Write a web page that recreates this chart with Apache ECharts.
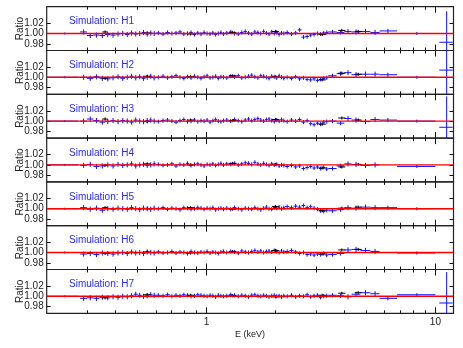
<!DOCTYPE html>
<html>
<head>
<meta charset="utf-8">
<script src="https://cdn.jsdelivr.net/npm/echarts@6.0.0/dist/echarts.min.js"></script>
<style>
html,body{margin:0;padding:0;background:#fff;}
#chart{width:463px;height:348px;}
</style>
</head>
<body>
<div id="chart"></div>
<script>
// ---------------- DATA ----------------
const panelNames = ['Simulation: H1','Simulation: H2','Simulation: H3','Simulation: H4','Simulation: H5','Simulation: H6','Simulation: H7'];

const xMinorTicks = [0.3,0.4,0.5,0.6,0.7,0.8,0.9,2,3,4,5,6,7,8,9];
const xMajorTicks = [1,10];
const xTickLabels = [1,10];
const yTickLabels = [0.98,1.00,1.02];

// shared energy bins (keV)
const binLo = [0.200,
  0.28,0.30,0.32,0.34,0.36,0.38,0.40,0.42,0.44,0.46,0.48,0.50,0.52,0.54,0.56,0.58,
  0.60,0.63,0.66,0.69,0.72,0.75,0.78,0.81,0.84,0.87,0.90,0.93,0.96,0.99,1.02,1.05,1.08,1.11,1.14,1.17,
  1.20,1.25,1.30,1.35,1.40,1.45,1.50,1.55,1.60,1.65,1.70,1.75,1.80,1.85,1.90,1.95,2.00,2.05,2.10,2.15,
  2.2,2.3,2.4,2.5,2.6,2.7,2.8,2.9,3.0,3.1,3.2,3.3,
  3.4,3.7,4.0,4.3,4.7,5.2,
  5.7,6.8,10.4];
const binHi = [0.275,
  0.30,0.32,0.34,0.36,0.38,0.40,0.42,0.44,0.46,0.48,0.50,0.52,0.54,0.56,0.58,0.60,
  0.63,0.66,0.69,0.72,0.75,0.78,0.81,0.84,0.87,0.90,0.93,0.96,0.99,1.02,1.05,1.08,1.11,1.14,1.17,1.20,
  1.25,1.30,1.35,1.40,1.45,1.50,1.55,1.60,1.65,1.70,1.75,1.80,1.85,1.90,1.95,2.00,2.05,2.10,2.15,2.20,
  2.3,2.4,2.5,2.6,2.7,2.8,2.9,3.0,3.1,3.2,3.3,3.4,
  3.7,4.0,4.3,4.7,5.2,5.7,
  6.8,10.0,11.9];
const binE = [0.24,
  0.29,0.31,0.33,0.35,0.37,0.39,0.41,0.43,0.45,0.47,0.49,0.51,0.53,0.55,0.57,0.59,
  0.615,0.645,0.675,0.705,0.735,0.765,0.795,0.825,0.855,0.885,0.915,0.945,0.975,1.005,1.035,1.065,1.095,1.125,1.155,1.185,
  1.225,1.275,1.325,1.375,1.425,1.475,1.525,1.575,1.625,1.675,1.725,1.775,1.825,1.875,1.925,1.975,2.025,2.075,2.125,2.175,
  2.25,2.35,2.45,2.55,2.65,2.75,2.85,2.95,3.05,3.15,3.25,3.35,
  3.55,3.85,4.15,4.5,4.95,5.45,
  6.2,8.3,11.2];
const binErr = [0.002,
  0.005,0.005,0.005,0.005,0.005,0.005,0.005,0.005,0.005,0.005,0.005,0.005,0.005,0.005,0.005,0.005,
  0.004,0.004,0.004,0.004,0.004,0.004,0.004,0.004,0.004,0.004,0.004,0.004,0.004,0.004,0.004,0.004,0.004,0.004,0.004,0.004,
  0.004,0.004,0.004,0.004,0.004,0.004,0.004,0.004,0.004,0.004,0.004,0.004,0.004,0.004,0.004,0.004,0.004,0.004,0.004,0.004,
  0.004,0.004,0.004,0.004,0.004,0.004,0.004,0.004,0.004,0.004,0.004,0.004,
  0.004,0.004,0.005,0.005,0.005,0.005,
  0.004,0.003,0.06];

const h1Ratio = [1.000,
  1.003,0.996,0.997,0.996,0.998,0.997,0.999,1.000,0.998,1.001,0.999,1.000,1.002,0.999,1.001,1.000,
  1.001,0.999,1.002,1.000,1.001,1.003,0.999,1.000,1.002,0.998,1.001,0.999,1.002,1.000,0.999,1.001,0.998,1.000,1.002,0.999,
  1.001,1.003,1.000,0.999,1.002,1.004,1.001,0.999,1.003,1.002,1.000,1.004,1.001,0.999,1.003,1.000,1.002,0.998,1.001,1.000,
  1.002,0.999,1.001,1.007,0.993,0.994,0.997,0.998,1.000,0.999,1.001,1.002,
  1.003,1.002,1.004,1.003,1.004,1.002,
  1.005,1.000,0.983];
const h2Ratio = [1.000,
  1.000,0.998,1.001,0.998,0.997,0.999,1.001,0.998,1.000,1.002,0.999,1.001,0.998,1.000,1.002,0.999,
  1.000,1.002,0.999,1.001,1.003,1.000,0.998,1.001,0.999,1.002,1.000,0.998,1.001,1.003,0.999,1.000,1.002,0.998,1.001,1.000,
  0.999,1.002,1.001,1.003,0.999,1.000,1.002,1.004,1.001,0.999,1.003,1.002,1.000,0.998,1.002,1.001,0.999,1.003,1.000,0.998,
  1.000,0.998,1.001,0.997,0.999,0.996,0.995,0.997,0.994,0.996,0.998,0.999,
  1.003,1.007,1.009,1.005,1.006,1.006,
  1.005,1.000,1.014];
const h3Ratio = [1.000,
  1.000,1.004,1.001,0.998,0.999,1.001,0.999,1.001,1.000,0.998,1.002,1.000,0.999,1.001,1.002,1.000,
  0.999,1.001,1.002,1.000,0.998,1.001,1.003,0.999,1.000,1.002,0.999,1.001,1.000,1.002,0.998,1.001,1.003,1.000,0.999,1.001,
  1.002,1.000,1.003,1.001,0.999,1.002,1.004,1.001,1.003,1.005,1.002,1.000,1.003,1.004,1.001,0.999,1.002,1.000,1.003,1.001,
  0.999,1.002,1.000,1.003,0.998,1.001,0.995,0.993,0.996,0.994,0.998,0.999,
  1.000,0.996,1.005,1.002,0.999,1.003,
  1.002,1.000,0.988];
const h4Ratio = [1.000,
  0.999,1.001,0.997,0.998,1.000,0.998,1.001,0.999,1.000,1.002,0.998,1.000,1.001,0.999,1.000,1.002,
  1.001,0.999,1.000,1.002,0.998,1.001,1.000,1.003,0.999,1.001,1.002,1.000,0.998,1.001,1.000,1.002,0.999,1.001,1.003,1.000,
  1.002,1.001,1.003,1.000,1.002,1.004,1.003,1.001,1.005,1.002,1.000,1.003,1.001,0.999,1.002,1.000,1.001,0.998,1.000,0.999,
  0.997,0.999,0.996,0.998,0.993,0.995,0.997,0.994,0.996,0.993,0.995,0.992,
  0.993,0.998,1.002,1.001,0.999,1.000,
  null,0.997,null];
const h5Ratio = [1.000,
  1.002,0.999,1.001,0.997,1.000,0.999,1.001,1.000,0.999,1.002,1.000,0.998,1.001,1.000,0.999,1.001,
  1.000,1.002,0.999,1.001,1.000,0.998,1.002,1.001,0.999,1.000,1.002,1.001,0.999,1.001,1.000,1.002,0.998,1.000,1.001,0.999,
  1.001,0.999,1.002,1.000,0.998,1.001,1.000,0.999,1.002,1.000,0.998,1.001,1.003,1.000,0.999,1.002,1.001,1.003,1.000,1.002,
  1.004,1.002,1.005,1.003,1.006,1.002,1.004,1.001,0.999,0.996,0.995,0.997,
  0.996,0.998,1.002,1.001,1.003,1.002,
  1.002,1.000,null];
const h6Ratio = [1.000,
  0.997,0.998,0.996,0.999,0.998,0.997,0.999,1.000,0.998,1.001,0.999,1.000,0.998,1.001,1.000,0.999,
  1.001,0.999,1.000,1.002,0.999,1.001,1.000,0.998,1.002,1.000,0.999,1.001,1.000,1.002,0.999,1.001,1.000,0.998,1.001,1.002,
  1.000,1.002,1.001,0.999,1.003,1.001,1.000,1.002,1.004,1.001,1.003,1.000,1.002,1.003,1.001,1.004,1.002,1.000,1.003,1.001,
  1.002,1.004,1.001,0.998,1.000,0.996,0.997,0.995,0.997,0.996,0.998,0.995,
  0.996,0.998,1.005,1.006,1.004,1.002,
  null,0.999,null];
const h7Ratio = [1.000,
  0.996,0.997,0.996,0.998,0.997,0.999,0.998,1.000,0.999,1.001,1.004,1.002,1.000,1.001,1.003,1.002,
  1.002,1.001,1.003,1.000,1.002,1.001,1.003,1.002,1.000,1.001,1.003,1.002,1.001,1.000,1.002,1.001,0.999,1.002,1.001,1.000,
  1.001,1.003,1.002,1.000,1.002,1.001,0.999,1.002,1.003,1.001,1.000,1.002,1.001,0.999,1.001,1.002,1.000,1.001,0.999,1.001,
  1.000,1.002,0.999,1.001,1.000,1.003,0.999,1.001,1.002,0.998,1.000,1.001,
  1.002,1.001,0.999,1.004,1.007,1.005,
  0.996,1.003,0.987];
const panelRatios = [h1Ratio,h2Ratio,h3Ratio,h4Ratio,h5Ratio,h6Ratio,h7Ratio];

// second (black) data set
const blackE  = [0.36,0.55,0.85,1.30,2.00,3.20,3.90,4.60];
const blackLo = [0.35,0.53,0.82,1.25,1.93,3.08,3.76,4.44];
const blackHi = [0.37,0.57,0.88,1.35,2.07,3.32,4.04,4.76];
const blackErr = [0.003,0.003,0.003,0.003,0.003,0.003,0.003,0.003];
const blackRatios = [
  [1.003,1.001,0.999,1.002,1.004,0.998,1.006,1.004],
  [0.998,1.002,1.001,1.003,1.001,0.995,1.008,1.006],
  [1.004,0.999,1.002,1.001,1.003,0.994,1.006,1.002],
  [0.999,1.002,1.000,1.003,1.001,0.994,0.996,1.001],
  [1.002,1.000,1.002,0.999,1.004,0.996,1.001,1.003],
  [0.998,1.001,0.999,1.002,1.004,0.997,1.005,1.006],
  [0.997,1.003,1.002,1.001,0.999,1.002,1.006,1.007]
];
const modelLevel = 1.0;
const xRange = [0.2, 12];
const yRange = [0.967, 1.052];

// ---------------- LAYOUT / STYLE ----------------
const GL = 46.7, GW = 406.8, T0 = 6.7, PH = 43.8;
const FONT = 'Liberation Sans';

const grids = [], xAxes = [], yAxes = [], series = [], graphics = [];

function errRender(color) {
  return function (params, api) {
    const x = api.value(0), y = api.value(1);
    const a = api.coord([api.value(2), y]);
    const b = api.coord([api.value(3), y]);
    const c = api.coord([x, api.value(4)]);
    const d = api.coord([x, api.value(5)]);
    return {
      type: 'group',
      children: [
        {type: 'line', shape: {x1: a[0], y1: a[1], x2: b[0], y2: b[1]}, style: {stroke: color, lineWidth: 1}},
        {type: 'line', shape: {x1: c[0], y1: c[1], x2: d[0], y2: d[1]}, style: {stroke: color, lineWidth: 1}}
      ]
    };
  };
}

for (let i = 0; i < 7; i++) {
  const last = i === 6;
  grids.push({left: GL, width: GW, top: T0 + i * PH, height: PH, show: true,
    borderColor: '#222', borderWidth: 1.2, backgroundColor: 'transparent'});
  const baseX = {type: 'log', logBase: 10, min: xRange[0], max: xRange[1], gridIndex: i,
    axisLine: {show: false, onZero: false}, splitLine: {show: false}, minorTick: {show: false}};
  xAxes.push(Object.assign({}, baseX, {position: 'bottom',
    axisTick: {show: true, inside: true, length: 3, customValues: xMinorTicks, lineStyle: {color: '#111', width: 1}},
    axisLabel: {show: false}}));
  xAxes.push(Object.assign({}, baseX, {position: 'bottom',
    axisTick: {show: true, inside: true, length: 6, customValues: xMajorTicks, lineStyle: {color: '#111', width: 1}},
    axisLabel: {show: last, customValues: xTickLabels, formatter: v => String(v), fontSize: 10, fontFamily: FONT, color: '#222', margin: 4},
    name: last ? 'E (keV)' : '', nameLocation: 'middle', nameGap: 17, nameMoveOverlap: false,
    nameTextStyle: {fontSize: 9, fontFamily: FONT, color: '#222'}}));
  xAxes.push(Object.assign({}, baseX, {position: 'top',
    axisTick: {show: true, inside: true, length: 3, customValues: xMinorTicks, lineStyle: {color: '#111', width: 1}},
    axisLabel: {show: false}}));
  xAxes.push(Object.assign({}, baseX, {position: 'top',
    axisTick: {show: true, inside: true, length: 6, customValues: xMajorTicks, lineStyle: {color: '#111', width: 1}},
    axisLabel: {show: false}}));

  const baseY = {type: 'value', min: yRange[0], max: yRange[1], gridIndex: i,
    axisLine: {show: false, onZero: false}, splitLine: {show: false}};
  yAxes.push(Object.assign({}, baseY, {position: 'left',
    axisTick: {show: true, inside: true, length: 4, customValues: yTickLabels, lineStyle: {color: '#111'}},
    axisLabel: {show: true, customValues: yTickLabels, formatter: v => v.toFixed(2), fontSize: 10, fontFamily: FONT, color: '#222', margin: 3},
    name: 'Ratio', nameLocation: 'middle', nameGap: 21, nameMoveOverlap: false,
    nameTextStyle: {fontSize: 10, fontFamily: FONT, color: '#222'}}));
  yAxes.push(Object.assign({}, baseY, {position: 'right',
    axisTick: {show: true, inside: true, length: 4, customValues: yTickLabels, lineStyle: {color: '#111'}},
    axisLabel: {show: false}}));

  const r = panelRatios[i];
  const blueData = [];
  for (let k = 0; k < binE.length; k++) {
    if (r[k] == null) continue;
    blueData.push([binE[k], r[k], binLo[k], binHi[k], r[k] - binErr[k], r[k] + binErr[k]]);
  }
  const br = blackRatios[i];
  const blackData = blackE.map((e, k) => [e, br[k], blackLo[k], blackHi[k], br[k] - blackErr[k], br[k] + blackErr[k]]);

  series.push({type: 'custom', xAxisIndex: i * 4, yAxisIndex: i * 2, clip: true, z: 2,
    renderItem: errRender('#1010ff'), encode: {x: [0, 2, 3], y: [1, 4, 5]}, data: blueData});
  series.push({type: 'custom', xAxisIndex: i * 4, yAxisIndex: i * 2, clip: true, z: 3,
    renderItem: errRender('#000000'), encode: {x: [0, 2, 3], y: [1, 4, 5]}, data: blackData});
  series.push({type: 'line', xAxisIndex: i * 4, yAxisIndex: i * 2, z: 10, showSymbol: false, silent: true,
    lineStyle: {color: '#ff0000', width: 1.4}, data: [[xRange[0], modelLevel], [xRange[1], modelLevel]]});

  graphics.push({type: 'text', left: 69, top: T0 + i * PH + 10,
    style: {text: panelNames[i], fill: '#2a2aff', fontSize: 10, fontFamily: FONT}});
}

const chart = echarts.init(document.getElementById('chart'), null, {renderer: 'canvas'});
chart.setOption({
  animation: false,
  backgroundColor: '#fff',
  grid: grids,
  xAxis: xAxes,
  yAxis: yAxes,
  series: series,
  graphic: graphics
});
</script>
</body>
</html>
